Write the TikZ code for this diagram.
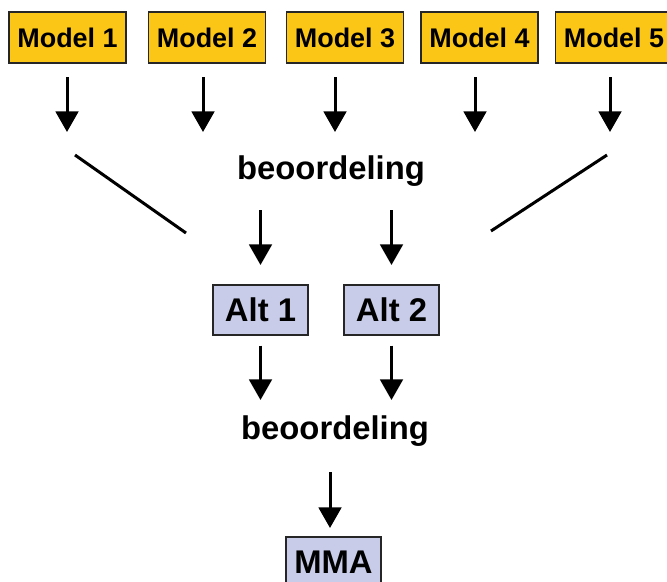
\documentclass[tikz,border=0pt]{standalone}
\usepackage{fontspec}
\setmainfont{Liberation Sans}
\usetikzlibrary{arrows.meta,positioning}

\definecolor{modelgeel}{RGB}{252,198,22}
\definecolor{altblauw}{RGB}{200,204,232}

\begin{document}
\begin{tikzpicture}
	[x=0.03cm, y=-0.03cm, node distance = 4.14cm, on grid,
	 model/.style = {draw=black!85, line width=1pt, fill=modelgeel, minimum width=3.51cm, minimum height=1.53cm, inner sep=0pt, font=\bfseries\fontsize{23}{26}\selectfont},
	 alt/.style = {draw=black!85, line width=1pt, fill=altblauw, minimum width=2.85cm, minimum height=1.5cm, inner sep=0pt, font=\bfseries\fontsize{28}{32}\selectfont},
	 oordeel/.style = {font=\bfseries\fontsize{28}{32}\selectfont, inner sep=0pt},
	 pijl/.style = {line width=0.09cm, -{Triangle[width=0.68cm,length=0.62cm]}},
	 lijn/.style = {line width=0.09cm}]
\useasboundingbox (0,0) rectangle (667,581);

\node[model](m_1) at (67.5,37.5){Model 1};
\node[model](m_2) at (207,37.5){Model 2};
\node[model](m_3) at (345,37.5){Model 3};
\node[model](m_4) at (479.5,37.5){Model 4};
\node[model](m_5) at (614,37.5){Model 5};

\node[oordeel](b_1) at (331,171){beoordeling};
\node[alt](alt_1) at (260.5,310){Alt 1};
\node[alt](alt_2) at (391.5,310){Alt 2};
\node[oordeel](b_2) at (335,431){beoordeling};
\node[alt](mma) at (333.5,562){MMA};

% pijlen onder de modellen
\foreach \i/\x in {1/67,2/203,3/335,4/475,5/610}
{
	\coordinate (s_\i) at (\x,77);
	\coordinate (e_\i) at (\x,132);
	\draw[pijl] (s_\i) -- (e_\i);
}

% trechter
\coordinate (l_0) at (75,155);
\coordinate (l_1) at (186,233);
\coordinate (r_0) at (607,155);
\coordinate (r_1) at (491,231);
\draw[lijn] (l_0) -- (l_1);
\draw[lijn] (r_0) -- (r_1);

\draw[pijl] (alt_1 |- 0,210) -- (alt_1.north |- 0,265);
\draw[pijl] (alt_2 |- 0,210) -- (alt_2.north |- 0,265);
\draw[pijl] ([yshift=-0.3cm]alt_1.south) -- (alt_1 |- 0,400);
\draw[pijl] ([yshift=-0.3cm]alt_2.south) -- (alt_2 |- 0,400);
\draw[pijl] (330,472) -- (330,528);

\end{tikzpicture}
\end{document}
